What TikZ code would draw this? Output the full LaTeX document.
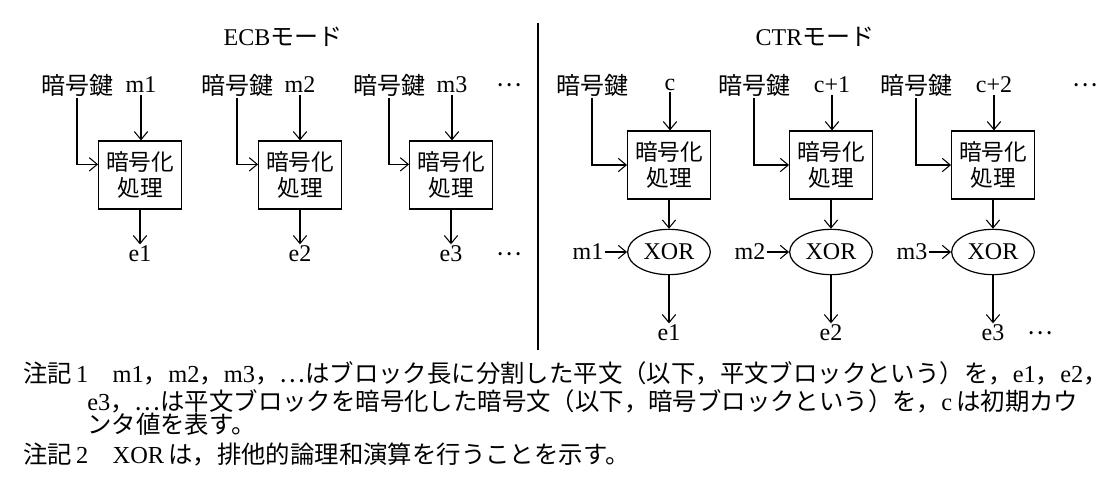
\documentclass[tikz,border=0pt]{standalone}
\usepackage{fontspec}
\setmainfont{Liberation Serif}
\newfontfamily\cjk{Noto Sans CJK JP}
\newcommand{\J}[1]{{\cjk #1}}
\usetikzlibrary{arrows.meta,shapes.geometric}
\begin{document}
\begin{tikzpicture}[x=0.75pt,y=-0.75pt,
  txt/.style={inner sep=1pt,font=\fontsize{18}{20}\selectfont},
  box/.style={draw,line width=0.9pt,minimum width=62pt,minimum height=51pt,inner sep=0pt,align=center,font=\fontsize{17}{19}\selectfont\cjk},
  xor/.style={draw,ellipse,line width=0.9pt,minimum width=62pt,minimum height=34pt,inner sep=0pt,font=\fontsize{18}{20}\selectfont},
  arr/.style={line width=0.8pt,-{Straight Barb[length=6pt,width=10pt]}},
  note/.style={anchor=west,inner sep=0pt,font=\fontsize{18.3}{20}\selectfont}]
\useasboundingbox (0,0) rectangle (1108,478);
\draw[line width=0.8pt] (538,23) coordinate (d1) -- (538,350) coordinate (d2);
\node[txt] (t1) at (283,37) {ECB\J{モード}};
\node[txt] (t2) at (815,37) {CTR\J{モード}};
% ECB
\foreach \i/\k/\m/\b in {1/77/141/140,2/237/300/300,3/389/452/451}{
  \node[txt] (ek\i) at (\k,85) {\J{暗号鍵}};
  \node[txt] (em\i) at (\m,85) {m\i};
  \node[box] (eb\i) at (\b,175) {暗号化\\処理};
  \node[txt] (ee\i) at (\b,254) {e\i};
  \draw[arr] (em\i.south) -- (em\i.south |- eb\i.north);
  \draw[arr] (ek\i.south) |- ([yshift=8pt]eb\i.west);
  \draw[arr] (eb\i.south) -- (ee\i.north);
}
\node[txt] (ed1) at (509,85) {\J{…}};
\node[txt] (ed2) at (509,254) {\J{…}};
% CTR
\foreach \i/\k/\c/\b/\m/\lab in {1/592/670/669/585/c,2/754/832/831/747/c+1,3/916/994/993/909/c+2}{
  \node[txt] (ck\i) at (\k,85) {\J{暗号鍵}};
  \node[txt] (cc\i) at (\c,85) {\lab};
  \node[box] (cb\i) at (\b,165) {暗号化\\処理};
  \node[xor] (cx\i) at (\b,252) {XOR};
  \node[txt,anchor=east] (cm\i) at (\b-64,252) {m\i};
  \node[txt] (ce\i) at (\b,333) {e\i};
  \draw[arr] (cc\i.south) -- (cc\i.south |- cb\i.north);
  \draw[arr] (ck\i.south) |- (cb\i.west);
  \draw[arr] (cb\i.south) -- (cx\i.north);
  \draw[arr] (cm\i.east) -- (cx\i.west);
  \draw[arr] (cx\i.south) -- (ce\i.north);
}
\node[txt] (cd1) at (1085,85) {\J{…}};
\node[txt] (cd2) at (1040,333) {\J{…}};
% notes
\node[note] (n1) at (23,373) {\J{注記}\,1\hspace{1em}m1\J{，}m2\J{，}m3\J{，…はブロック長に分割した平文（以下，平文ブロックという）を，}e1\J{，}e2\J{，}};
\node[note] (n2) at (87,401) {e3\J{，…は平文ブロックを暗号化した暗号文（以下，暗号ブロックという）を，}c\,\J{は初期カウ}};
\node[note] (n3) at (87,424) {\J{ンタ値を表す。}};
\node[note] (n4) at (23,454) {\J{注記}\,2\hspace{1em}XOR\,\J{は，排他的論理和演算を行うことを示す。}};
\end{tikzpicture}
\end{document}
